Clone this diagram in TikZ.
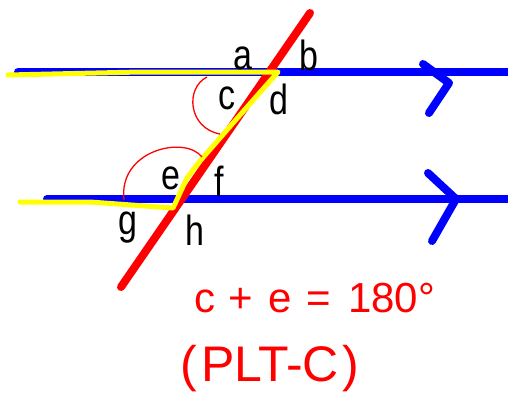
\documentclass[tikz,border=0pt]{standalone}
\usepackage{fontspec}
\usepackage{graphicx}
\setmainfont{Liberation Sans}
\begin{document}
\begin{tikzpicture}[x=1pt,y=-1pt,
  parline/.style={draw={rgb,255:red,0;green,0;blue,255}, line width=8pt, line cap=round},
  chev/.style={draw={rgb,255:red,0;green,0;blue,255}, line width=8pt, line cap=round, line join=round},
  trans/.style={draw={rgb,255:red,255;green,0;blue,0}, line width=8pt, line cap=round},
  hilite/.style={draw={rgb,255:red,255;green,255;blue,0}, line width=5pt, line cap=round, line join=round},
  anglearc/.style={draw={rgb,255:red,255;green,0;blue,0}, line width=1.3pt},
  lbl/.style={font=\fontsize{34}{34}\selectfont, text=black, inner sep=0pt},
  hand/.style={text={rgb,255:red,255;green,0;blue,0}, inner sep=0pt}
]
\newcommand{\tallglyph}[1]{\scalebox{1}[1.24]{#1}}
\useasboundingbox (0,0) rectangle (508,400);
\fill[white] (0,0) rectangle (508,400);
% coordinates
\coordinate (t1) at (18,72);
\coordinate (t2) at (512,72);
\coordinate (b1) at (47,199);
\coordinate (b2) at (512,199);
\coordinate (r1) at (310,13);
\coordinate (r2) at (121,287);
\coordinate (ca) at (423,64);
\coordinate (cv) at (449,83);
\coordinate (cb) at (429,113);
\coordinate (da) at (428,173);
\coordinate (dv) at (456,199);
\coordinate (db) at (432,241);
\coordinate (y0) at (8,75);
\coordinate (y1) at (140,72);
\coordinate (yt) at (278,72);
\coordinate (ym1) at (233,123);
\coordinate (ym2) at (200,161);
\coordinate (ym3) at (187,178);
\coordinate (yb) at (173,208);
\coordinate (y2) at (90,202);
\coordinate (y3) at (20,202);
% parallel lines
\draw[parline] (t1) -- (t2);
\draw[parline] (b1) -- (b2);
\draw[chev] (ca) -- (cv) -- (cb);
\draw[chev] (da) -- (dv) -- (db);
% transversal
\draw[trans] (r1) -- (r2);
% highlight
\draw[hilite] (y0) -- (y1) -- (yt) -- (ym1) -- (ym2) -- (ym3) -- (yb) -- (y2) -- (y3);
% angle arcs
\coordinate (a1s) at (207,77);
\coordinate (a1e) at (220,134);
\coordinate (a2s) at (124,200);
\coordinate (a2e) at (202,157);
\draw[anglearc] (a1s) .. controls (185,88) and (188,128) .. (a1e);
\draw[anglearc] (a2s) .. controls (118,150) and (185,135) .. (a2e);
% labels
\node[lbl] (la) at (243,58) {\tallglyph{a}};
\node[lbl] (lb) at (309,55) {\tallglyph{b}};
\node[lbl] (lc) at (227,98) {\tallglyph{c}};
\node[lbl] (ld) at (279,99) {\tallglyph{d}};
\node[lbl] (le) at (171,178) {\tallglyph{e}};
\node[lbl] (lf) at (219,181) {\tallglyph{f}};
\node[lbl] (lg) at (128,228) {\tallglyph{g}};
\node[lbl] (lh) at (195,230) {\tallglyph{h}};
% handwritten notes
\node[hand, font=\fontsize{42}{42}\selectfont] (eq) at (315,298) {c\hspace{13pt}+\hspace{15pt}e\hspace{15pt}=\hspace{17pt}180°};
\node[hand, font=\fontsize{50}{50}\selectfont] (plt) at (270,369) {(\hspace{4pt}PLT-C\hspace{4pt})};
\end{tikzpicture}
\end{document}
